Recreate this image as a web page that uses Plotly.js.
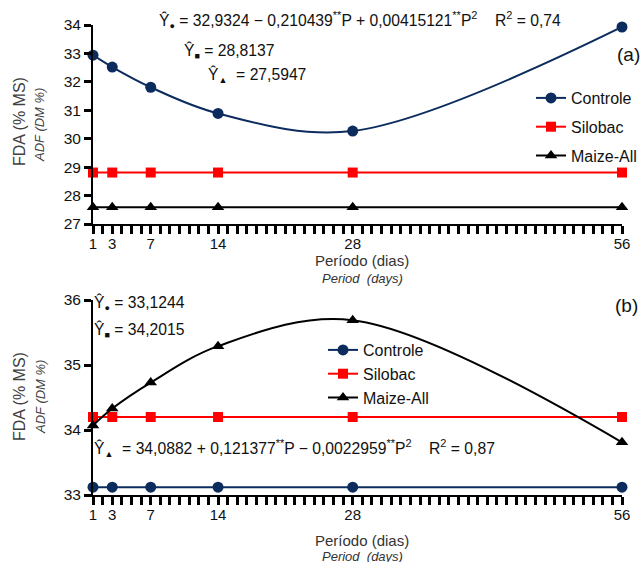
<!DOCTYPE html>
<html>
<head>
<meta charset="utf-8">
<script src="https://cdn.plot.ly/plotly-3.0.1.min.js"></script>
<style>html,body{margin:0;padding:0;background:#fff;}#chart{width:641px;height:562px;}</style>
</head>
<body>
<div id="chart"></div>
<script>
// ---- data ----
const days = [1, 3, 7, 14, 28, 56];
const dayTickLabels = ['1', '3', '7', '14', '28', '56'];
const seriesNames = ['Controle', 'Silobac', 'Maize-All'];
// Panel (a)
const controleA = [32.94, 32.52, 31.81, 30.89, 30.27, 33.93];
const silobacA  = [28.81, 28.81, 28.81, 28.81, 28.81, 28.81];
const maizeA    = [27.59, 27.59, 27.59, 27.59, 27.59, 27.59];
// Panel (b)
const controleB = [33.12, 33.12, 33.12, 33.12, 33.12, 33.12];
const silobacB  = [34.20, 34.20, 34.20, 34.20, 34.20, 34.20];
const maizeB    = [34.07, 34.33, 34.73, 35.29, 35.69, 33.81];
const yTicksA = [27, 28, 29, 30, 31, 32, 33, 34];
const yTicksB = [33, 34, 35, 36];

// ---- styles ----
const FONT = 'Liberation Sans, Arial, sans-serif';
const NAVY = '#0c2c5e', RED = '#ff0000', BLACK = '#000000';
const styles = [
  {color: NAVY, symbol: 'circle', size: 11},
  {color: RED, symbol: 'square', size: 10},
  {color: BLACK, symbol: 'triangle-up', size: 11}
];

// plot area in pixels
const L = 93, R = 19, T = 25, B = 67, W = 641, H = 562;
const plotW = W - L - R, plotH = H - T - B;
const px = x => (x - L) / plotW;
const py = y => (H - B - y) / plotH;

function mk(y, i, xa, ya, legend, group, shape) {
  const s = styles[i];
  const t = {
    x: days, y: y, type: 'scatter', mode: 'lines+markers',
    name: seriesNames[i], xaxis: xa, yaxis: ya, legend: legend,
    cliponaxis: false,
    line: {color: s.color, width: 2, shape: shape || 'linear', smoothing: 1},
    marker: {color: s.color, symbol: s.symbol, size: s.size}
  };
  if (group) t.legendgroup = group;
  return t;
}

const data = [
  mk(controleA, 0, 'x', 'y', 'legend', 'ga0', 'spline'),
  mk(silobacA, 1, 'x', 'y', 'legend', 'ga1'),
  mk(maizeA, 2, 'x', 'y', 'legend', 'ga2'),
  mk(controleB, 0, 'x2', 'y2', 'legend2'),
  mk(silobacB, 1, 'x2', 'y2', 'legend2'),
  mk(maizeB, 2, 'x2', 'y2', 'legend2', null, 'spline')
];

// base x axes: line + a tick every day
const xTicks = {
  range: [1, 56], tickmode: 'linear', tick0: 0, dtick: 1, showticklabels: false,
  ticks: 'outside', ticklen: 8, tickwidth: 3, tickcolor: 'black',
  showline: true, linecolor: 'black', linewidth: 2, showgrid: false, zeroline: false
};
// overlay x axes carrying the sampled-day labels
const xLabels = {
  range: [1, 56], tickmode: 'array', tickvals: days, ticktext: dayTickLabels,
  ticks: '', showline: false, showgrid: false, zeroline: false, ticklabelstandoff: 9,
  tickfont: {family: FONT, size: 15, color: '#111'}, side: 'bottom'
};
const yCommon = {
  ticks: 'outside', ticklen: 7, tickwidth: 3, tickcolor: 'black',
  showline: true, linecolor: 'black', linewidth: 2, showgrid: false, zeroline: false,
  tickfont: {family: FONT, size: 15.5, color: '#111'}, tickmode: 'array'
};

const topA = 1, botA = 1 - 199 / plotH;
const layout = {
  width: W, height: H,
  margin: {l: L, r: R, t: T, b: B, autoexpand: false},
  paper_bgcolor: 'white', plot_bgcolor: 'white',
  font: {family: FONT, size: 15, color: '#111'},
  xaxis: Object.assign({}, xTicks, {anchor: 'y'}),
  yaxis: Object.assign({}, yCommon, {range: [27, 34], tickvals: yTicksA, domain: [botA, topA], anchor: 'x'}),
  xaxis2: Object.assign({}, xTicks, {anchor: 'y2'}),
  yaxis2: Object.assign({}, yCommon, {range: [33, 36], tickvals: yTicksB, domain: [0, 195 / plotH], anchor: 'x2'}),
  xaxis3: Object.assign({}, xLabels, {overlaying: 'x', anchor: 'y'}),
  xaxis4: Object.assign({}, xLabels, {overlaying: 'x2', anchor: 'y2'}),
  legend: {
    x: px(531), y: py(81), xanchor: 'left', yanchor: 'top',
    bgcolor: 'rgba(0,0,0,0)', borderwidth: 0, itemwidth: 30,
    tracegroupgap: 5, traceorder: 'grouped',
    font: {family: FONT, size: 16, color: '#111'}
  },
  legend2: {
    x: px(323), y: py(333), xanchor: 'left', yanchor: 'top',
    bgcolor: 'rgba(0,0,0,0)', borderwidth: 0, itemwidth: 30,
    traceorder: 'normal',
    font: {family: FONT, size: 16, color: '#111'}
  },
  annotations: []
};

// invisible traces so the label axes are drawn
const dummy = (xa, ya, yv) => ({x: days, y: yv, xaxis: xa, yaxis: ya, type: 'scatter', mode: 'none', showlegend: false, hoverinfo: 'skip'});
data.push(dummy('x3', 'y', maizeA));
data.push(dummy('x4', 'y2', controleB));

const NB = '\u00a0';
const EQ = 15.7;
function ann(text, x, y, opts) {
  return Object.assign({
    text: text, xref: 'paper', yref: 'paper', x: px(x), y: py(y),
    xanchor: 'left', yanchor: 'middle', showarrow: false,
    font: {family: FONT, size: EQ, color: '#111'}
  }, opts || {});
}
const sm = s => '<span style="font-size:9px">' + s + '</span>';
const A = layout.annotations;
// equations panel (a)
A.push(ann('Ŷ<sub>' + sm('●') + '</sub> = 32,9324 − 0,210439<sup>**</sup>P + 0,00415121<sup>**</sup>P<sup>2</sup>' + NB.repeat(4) + 'R<sup>2</sup> = 0,74', 157, 20));
A.push(ann('Ŷ<sub>' + sm('■') + '</sub> = 28,8137', 182, 51));
A.push(ann('Ŷ<sub>' + sm('▲') + '</sub>' + NB + ' = 27,5947', 206, 75));
A.push(ann('(a)', 642, 55, {xanchor: 'right', font: {family: FONT, size: 19, color: '#111'}}));
// equations panel (b)
A.push(ann('Ŷ<sub>' + sm('●') + '</sub> = 33,1244', 92, 303));
A.push(ann('Ŷ<sub>' + sm('■') + '</sub> = 34,2015', 92, 330));
A.push(ann('Ŷ<sub>' + sm('▲') + '</sub>' + NB + ' = 34,0882 + 0,121377<sup>**</sup>P − 0,0022959<sup>**</sup>P<sup>2</sup>' + NB.repeat(4) + 'R<sup>2</sup> = 0,87', 92, 448));
A.push(ann('(b)', 640, 305, {xanchor: 'right', font: {family: FONT, size: 19, color: '#111'}}));
// axis titles
const ytitle = (txt, x, y, size, italic) => ann(italic ? '<i>' + txt + '</i>' : txt, x, y,
  {xanchor: 'center', textangle: -90, font: {family: FONT, size: size, color: '#404040'}});
A.push(ytitle('FDA (% MS)', 19, 122, 16, false));
A.push(ytitle('ADF (DM %)', 40, 125, 13, true));
A.push(ytitle('FDA (% MS)', 19, 397, 16, false));
A.push(ytitle('ADF (DM %)', 40, 397, 13, true));
const xtitle = (txt, y, size, italic) => ann(italic ? '<i>' + txt + '</i>' : txt, 362, y,
  {xanchor: 'center', font: {family: FONT, size: size, color: '#333'}});
A.push(xtitle('Período (dias)', 260, 15, false));
A.push(xtitle('Period' + NB + NB + '(days)', 278, 13, true));
A.push(xtitle('Período (dias)', 540, 15, false));
A.push(xtitle('Period' + NB + NB + '(days)', 556, 13, true));

Plotly.newPlot('chart', data, layout, {displayModeBar: false, staticPlot: true});
</script>
</body>
</html>
